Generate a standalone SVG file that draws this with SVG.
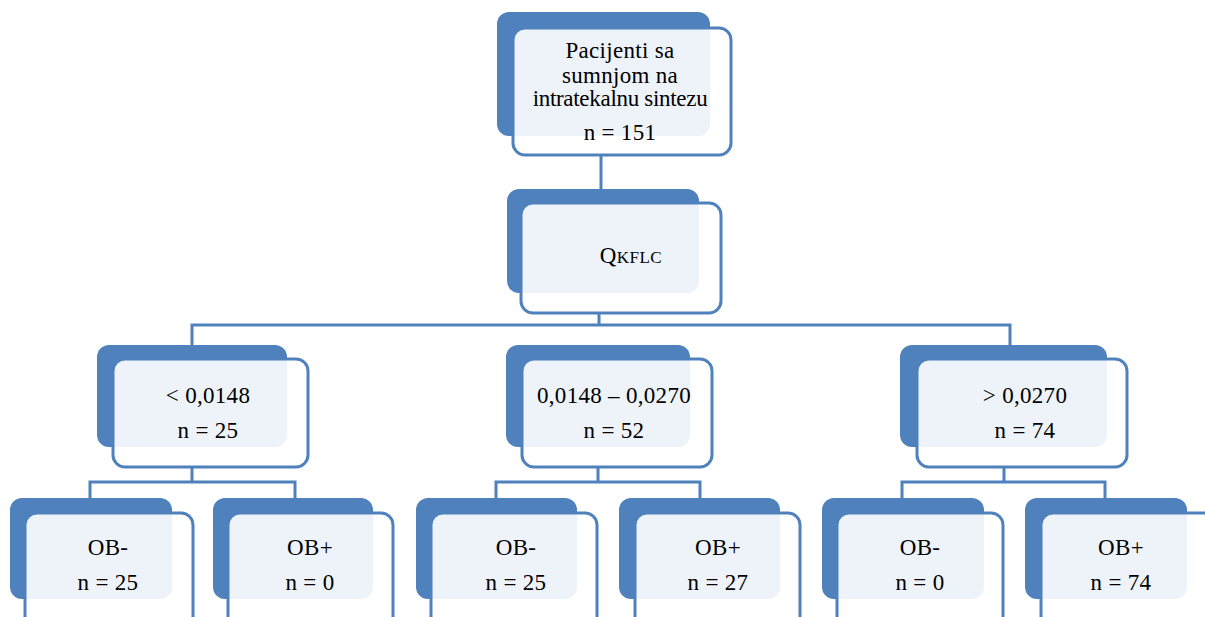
<svg xmlns="http://www.w3.org/2000/svg" width="1205" height="617" viewBox="0 0 1205 617">
<style>
.back{fill:#4F81BD;}
.front{fill:#FFFFFF;fill-opacity:0.9;stroke:#4F81BD;stroke-width:3;}
.conn{fill:none;stroke:#4F81BD;stroke-width:3;}
text{font-family:"Liberation Serif","Times New Roman",serif;font-size:23px;letter-spacing:0.3px;fill:#000;text-anchor:middle;}
.sc{font-size:17px;letter-spacing:0.5px;}
</style>
<rect width="1205" height="617" fill="#FFFFFF"/>
<g id="connectors">
<path class="conn" d="M601,155 V190"/>
<path class="conn" d="M599,313 V325 M192,345 V325 H1010 V345"/>
<path class="conn" d="M192,467 V482 M90,498 V482 H295 V498"/>
<path class="conn" d="M598,467 V482 M496,498 V482 H700 V498"/>
<path class="conn" d="M1004,467 V482 M902,498 V482 H1105 V498"/>
</g>
<g id="n-root">
<rect class="back" x="497" y="12" width="213" height="124" rx="12"/>
<rect class="front" x="513" y="28" width="218" height="127" rx="12"/>
<text x="620" y="58">Pacijenti  sa</text>
<text x="620" y="83">sumnjom  na</text>
<text x="620" y="106" style="letter-spacing:-0.3px">intratekalnu sintezu</text>
<text x="620" y="140">n = 151</text>
</g>
<g id="n-qkflc">
<rect class="back" x="507" y="189" width="192" height="104" rx="12"/>
<rect class="front" x="521" y="203" width="200" height="110" rx="12"/>
<text x="631" y="263">Q<tspan class="sc">KFLC</tspan></text>
</g>
<g id="n-low">
<rect class="back" x="97" y="345" width="190" height="102" rx="12"/>
<rect class="front" x="113" y="359" width="195" height="108" rx="12"/>
<text x="208" y="403">&lt; 0,0148</text>
<text x="208" y="438">n = 25</text>
</g>
<g id="n-mid">
<rect class="back" x="506" y="345" width="184" height="102" rx="12"/>
<rect class="front" x="522" y="359" width="190" height="108" rx="12"/>
<text x="614" y="403">0,0148 – 0,0270</text>
<text x="614" y="438">n = 52</text>
</g>
<g id="n-high">
<rect class="back" x="900" y="345" width="207" height="102" rx="12"/>
<rect class="front" x="917" y="359" width="210" height="108" rx="12"/>
<text x="1025" y="403">&gt; 0,0270</text>
<text x="1025" y="438">n = 74</text>
</g>
<g id="n-low-neg">
<rect class="back" x="10" y="498" width="162" height="101" rx="12"/>
<rect class="front" x="25" y="513" width="168" height="115" rx="12"/>
<text x="108" y="555">OB-</text>
<text x="108" y="590">n = 25</text>
</g>
<g id="n-low-pos">
<rect class="back" x="213" y="498" width="160" height="101" rx="12"/>
<rect class="front" x="228" y="513" width="165" height="115" rx="12"/>
<text x="310" y="555">OB+</text>
<text x="310" y="590">n = 0</text>
</g>
<g id="n-mid-neg">
<rect class="back" x="416" y="498" width="161" height="101" rx="12"/>
<rect class="front" x="431" y="513" width="166" height="115" rx="12"/>
<text x="516" y="555">OB-</text>
<text x="516" y="590">n = 25</text>
</g>
<g id="n-mid-pos">
<rect class="back" x="619" y="498" width="161" height="101" rx="12"/>
<rect class="front" x="635" y="513" width="165" height="115" rx="12"/>
<text x="718" y="555">OB+</text>
<text x="718" y="590">n = 27</text>
</g>
<g id="n-high-neg">
<rect class="back" x="822" y="498" width="162" height="101" rx="12"/>
<rect class="front" x="837" y="513" width="166" height="115" rx="12"/>
<text x="920" y="555">OB-</text>
<text x="920" y="590">n = 0</text>
</g>
<g id="n-high-pos">
<rect class="back" x="1025" y="498" width="162" height="101" rx="12"/>
<rect class="front" x="1041" y="513" width="175" height="115" rx="12"/>
<text x="1121" y="555">OB+</text>
<text x="1121" y="590">n = 74</text>
</g>
</svg>
